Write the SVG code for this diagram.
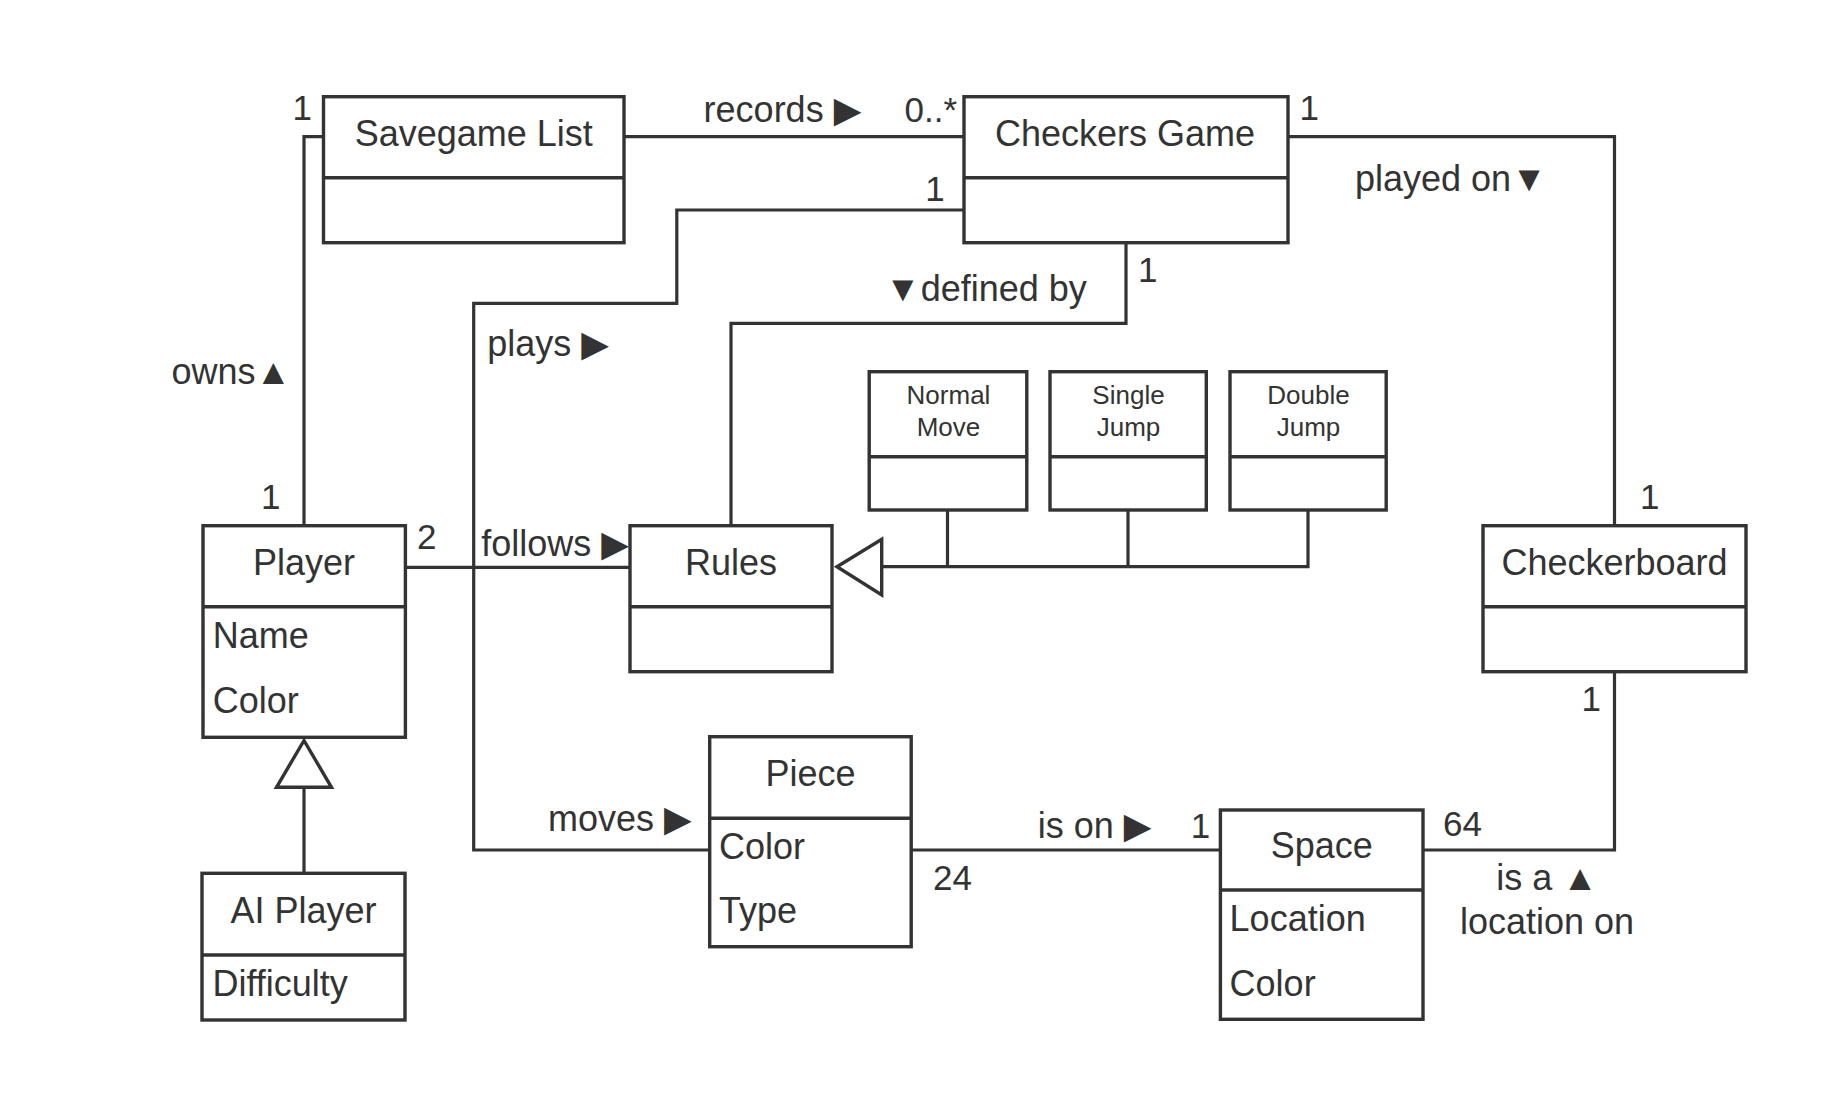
<svg xmlns="http://www.w3.org/2000/svg" width="1829" height="1102" viewBox="0 0 1829 1102">
<style>
  .box { fill: #ffffff; stroke: #333333; stroke-width: 3.4; }
  .div { stroke: #333333; stroke-width: 3.4; }
  .ln { fill: none; stroke: #333333; stroke-width: 3.2; }
  .tri { fill: #ffffff; stroke: #333333; stroke-width: 3.4; stroke-linejoin: miter; }
  text { font-family: "Liberation Sans", Arial, "DejaVu Sans", sans-serif; fill: #333333; }
  .t { font-size: 36px; text-anchor: middle; }
  .a { font-size: 36px; }
  .s { font-size: 26px; text-anchor: middle; }
  .l { font-size: 36px; }
  .n { font-size: 35px; }
</style>
<rect width="1829" height="1102" fill="#ffffff"/>

<g id="connectors">
  <path class="ln" d="M624,136.7 H964"/>
  <path class="ln" d="M323.5,136.7 H304 V525.7"/>
  <path class="ln" d="M964,210 H676.8 V303.3 H473.7 V850 H709.7"/>
  <path class="ln" d="M1126,242.7 V323.3 H731 V525.7"/>
  <path class="ln" d="M1288,136.7 H1614.5 V525.7"/>
  <path class="ln" d="M405.4,567.3 H630"/>
  <path class="ln" d="M947.5,510 V566.7 M1128,510 V566.7 M1308,510 V566.7 H881.7"/>
  <polygon class="tri" points="837,566.7 881.7,539.3 881.7,595"/>
  <path class="ln" d="M304,787.3 V873.3"/>
  <polygon class="tri" points="304,740.5 276.5,787.3 331.5,787.3"/>
  <path class="ln" d="M911.2,850 H1220.4"/>
  <path class="ln" d="M1423,850 H1614.5 V671.7"/>
</g>

<g id="labels">
  <text class="n" x="312" y="120.3" text-anchor="end">1</text>
  <text class="l" x="703.6" y="121.5">records ▶</text>
  <text class="n" x="904.5" y="121.5">0..*</text>
  <text class="n" x="944.7" y="201" text-anchor="end">1</text>
  <text class="n" x="1299.5" y="120">1</text>
  <text class="l" x="1355" y="190.8">played on▼</text>
  <text class="l" x="885" y="300.5">▼defined by</text>
  <text class="n" x="1138" y="281.7">1</text>
  <text class="l" x="487.3" y="355.5">plays ▶</text>
  <text class="l" x="171.4" y="383.5">owns▲</text>
  <text class="n" x="280.4" y="508.8" text-anchor="end">1</text>
  <text class="n" x="417" y="549">2</text>
  <text class="l" x="481.3" y="556">follows ▶</text>
  <text class="n" x="1640" y="508.8">1</text>
  <text class="n" x="1601" y="711" text-anchor="end">1</text>
  <text class="l" x="548" y="831">moves ▶</text>
  <text class="l" x="1037.8" y="838">is on ▶</text>
  <text class="n" x="1190.8" y="837.5">1</text>
  <text class="n" x="933" y="889.5">24</text>
  <text class="n" x="1443" y="836">64</text>
  <text class="l" x="1547" y="889.5" text-anchor="middle">is a ▲</text>
  <text class="l" x="1547" y="933.5" text-anchor="middle">location on</text>
</g>

<g id="savegame-list">
  <rect class="box" x="323.5" y="96.7" width="300.5" height="146"/>
  <line class="div" x1="323.5" y1="177.7" x2="624" y2="177.7"/>
  <text class="t" x="473.7" y="145.5">Savegame List</text>
</g>

<g id="checkers-game">
  <rect class="box" x="964" y="96.7" width="324" height="146"/>
  <line class="div" x1="964" y1="177.7" x2="1288" y2="177.7"/>
  <text class="t" x="1125" y="145.5">Checkers Game</text>
</g>

<g id="player">
  <rect class="box" x="203" y="525.7" width="202.4" height="211.6"/>
  <line class="div" x1="203" y1="606.7" x2="405.4" y2="606.7"/>
  <text class="t" x="304" y="574.5">Player</text>
  <text class="a" x="212.7" y="647.5">Name</text>
  <text class="a" x="212.7" y="712.5">Color</text>
</g>

<g id="rules">
  <rect class="box" x="630" y="525.7" width="202" height="146"/>
  <line class="div" x1="630" y1="606.7" x2="832" y2="606.7"/>
  <text class="t" x="731" y="574.5">Rules</text>
</g>

<g id="normal-move">
  <rect class="box" x="869.2" y="371.7" width="157.6" height="138.3"/>
  <line class="div" x1="869.2" y1="456.7" x2="1026.8" y2="456.7"/>
  <text class="s" x="948.5" y="404.3">Normal</text>
  <text class="s" x="948.5" y="436">Move</text>
</g>

<g id="single-jump">
  <rect class="box" x="1050" y="371.7" width="156.3" height="138.3"/>
  <line class="div" x1="1050" y1="456.7" x2="1206.3" y2="456.7"/>
  <text class="s" x="1128.5" y="404.3">Single</text>
  <text class="s" x="1128.5" y="436">Jump</text>
</g>

<g id="double-jump">
  <rect class="box" x="1230" y="371.7" width="156.2" height="138.3"/>
  <line class="div" x1="1230" y1="456.7" x2="1386.2" y2="456.7"/>
  <text class="s" x="1308.5" y="404.3">Double</text>
  <text class="s" x="1308.5" y="436">Jump</text>
</g>

<g id="checkerboard">
  <rect class="box" x="1483" y="525.7" width="263" height="146"/>
  <line class="div" x1="1483" y1="606.7" x2="1746" y2="606.7"/>
  <text class="t" x="1614.5" y="574.5">Checkerboard</text>
</g>

<g id="ai-player">
  <rect class="box" x="202" y="873.3" width="203" height="146.7"/>
  <line class="div" x1="202" y1="955" x2="405" y2="955"/>
  <text class="t" x="303.5" y="923">AI Player</text>
  <text class="a" x="212.5" y="996">Difficulty</text>
</g>

<g id="piece">
  <rect class="box" x="709.7" y="736.7" width="201.5" height="210"/>
  <line class="div" x1="709.7" y1="818.3" x2="911.2" y2="818.3"/>
  <text class="t" x="810.5" y="785.8">Piece</text>
  <text class="a" x="719" y="858.5">Color</text>
  <text class="a" x="719" y="923">Type</text>
</g>

<g id="space">
  <rect class="box" x="1220.4" y="810" width="202.6" height="209.3"/>
  <line class="div" x1="1220.4" y1="890" x2="1423" y2="890"/>
  <text class="t" x="1321.7" y="858">Space</text>
  <text class="a" x="1229.6" y="931">Location</text>
  <text class="a" x="1229.6" y="995.5">Color</text>
</g>
</svg>
